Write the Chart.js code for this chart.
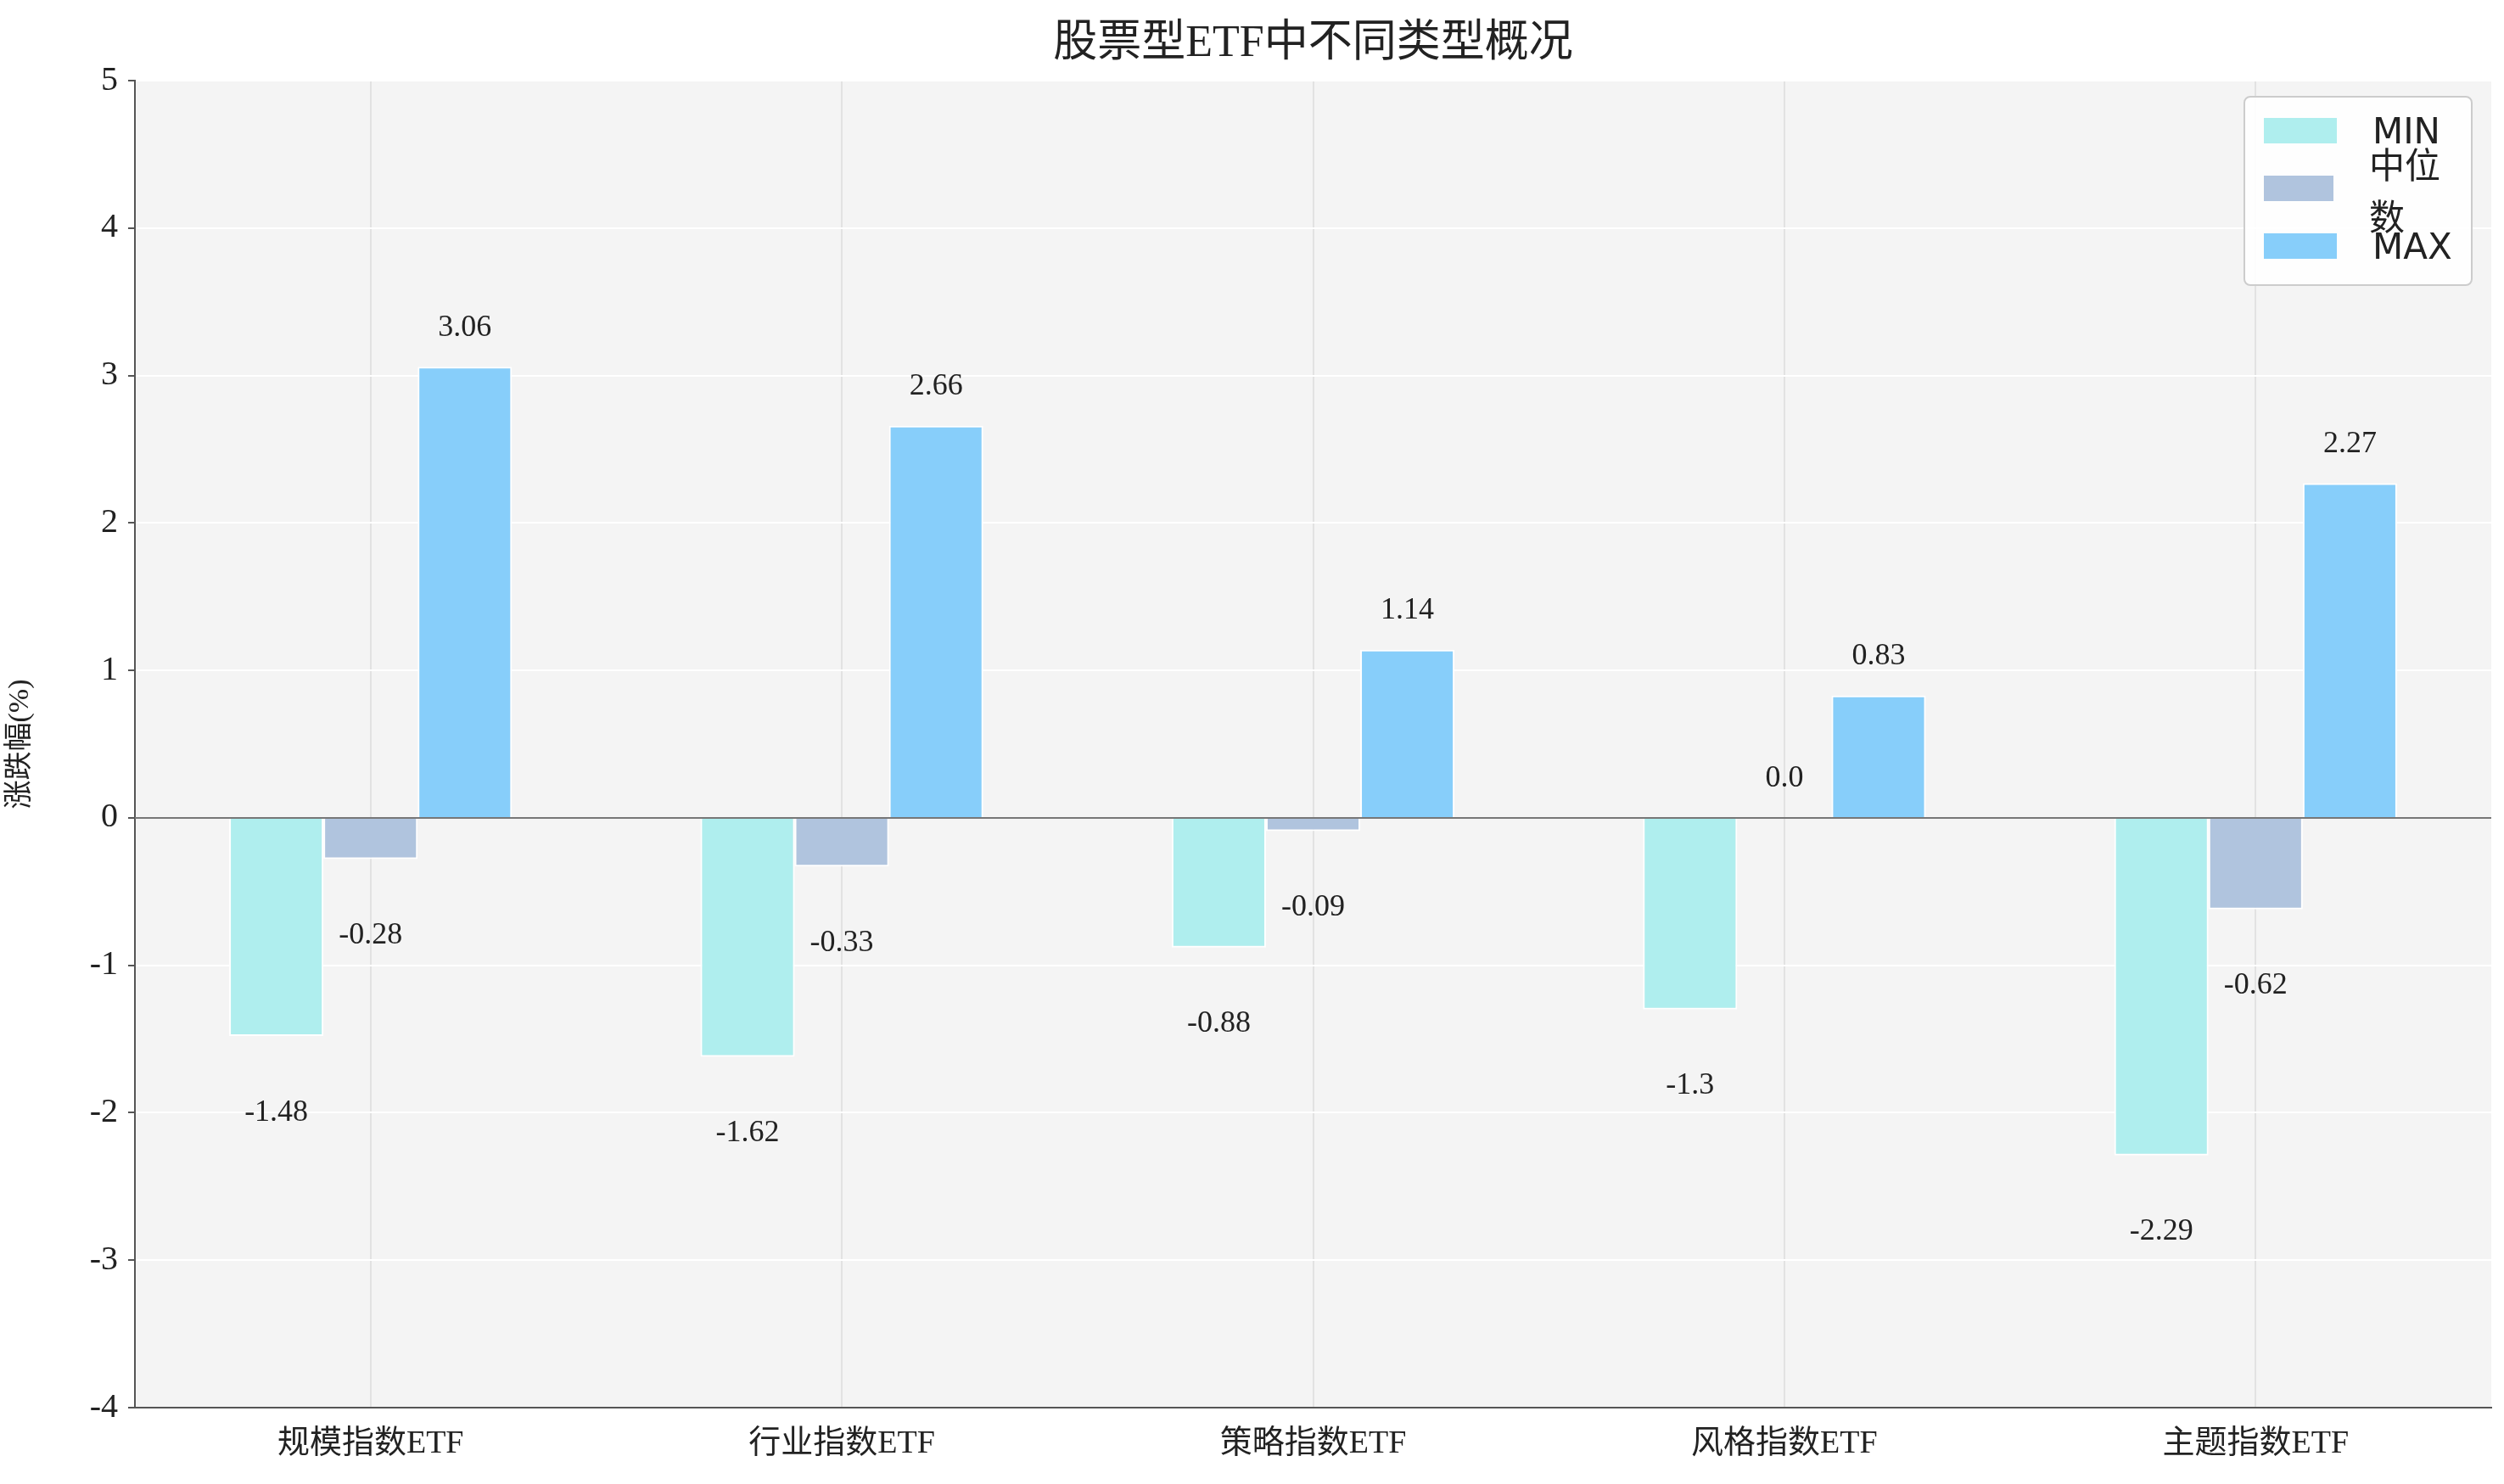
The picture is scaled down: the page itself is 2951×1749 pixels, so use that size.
<!DOCTYPE html>
<html lang="zh">
<head>
<meta charset="UTF-8">
<title>股票型ETF中不同类型概况</title>
<script src="https://cdn.jsdelivr.net/npm/chart.js"></script>
<style>
  body { margin: 0; background: #fff; }
  .wrap { position: relative; width: 2951px; height: 1749px; }
  .legend {
    position: absolute; left: 2644px; top: 113px; width: 266px; height: 220px;
    background: rgba(255,255,255,0.9); border: 2px solid #ccc; border-radius: 8px;
    font-family: "DejaVu Sans", "Noto Sans CJK SC", sans-serif; font-size: 42px; color: #222;
  }
  .legend .row { position: absolute; left: 22px; height: 50px; display: flex; align-items: center; }
  .legend .sw { width: 86px; height: 30px; margin-right: 42px; }
</style>
</head>
<body>
<div class="wrap">
  <canvas id="c" width="2951" height="1749"></canvas>
  <div class="legend">
    <div class="row" style="top:14px"><span class="sw" style="background:#afeeee"></span>MIN</div>
    <div class="row" style="top:82px"><span class="sw" style="background:#b0c4de"></span>中位数</div>
    <div class="row" style="top:150px"><span class="sw" style="background:#87cefa"></span>MAX</div>
  </div>
</div>
<script>
  const categories = ['规模指数ETF', '行业指数ETF', '策略指数ETF', '风格指数ETF', '主题指数ETF'];
  const minValues = [-1.48, -1.62, -0.88, -1.3, -2.29];
  const medianValues = [-0.28, -0.33, -0.09, 0.0, -0.62];
  const maxValues = [3.06, 2.66, 1.14, 0.83, 2.27];
  const yTicks = [5, 4, 3, 2, 1, 0, -1, -2, -3, -4];

  const serif = '"Liberation Serif", "Noto Sans CJK SC", serif';

  // 背景、标题、数值标签
  const decor = {
    id: 'decor',
    beforeDraw(chart) {
      const { ctx, chartArea: a } = chart;
      ctx.save();
      ctx.fillStyle = '#f4f4f4';
      ctx.fillRect(a.left, a.top, a.right - a.left, a.bottom - a.top);
      ctx.restore();
    },
    afterDatasetsDraw(chart) {
      const { ctx, scales } = chart;
      ctx.save();
      // 零线
      const y0 = scales.y.getPixelForValue(0);
      ctx.strokeStyle = '#777'; ctx.lineWidth = 2;
      ctx.beginPath(); ctx.moveTo(chart.chartArea.left, y0); ctx.lineTo(chart.chartArea.right, y0); ctx.stroke();
      ctx.fillStyle = '#222';
      ctx.font = '36px ' + serif;
      ctx.textAlign = 'center';
      chart.data.datasets.forEach((ds, i) => {
        chart.getDatasetMeta(i).data.forEach((bar, j) => {
          const v = ds.data[j];
          const yv = scales.y.getPixelForValue(v);
          const txt = Number.isInteger(v) ? v.toFixed(1) : String(v);
          if (v >= 0) { ctx.textBaseline = 'bottom'; ctx.fillText(txt, bar.x, yv - 28); }
          else { ctx.textBaseline = 'middle'; ctx.fillText(txt, bar.x, yv + 90); }
        });
      });
      // 标题
      ctx.font = '52px ' + serif;
      ctx.textBaseline = 'middle';
      ctx.fillText('股票型ETF中不同类型概况', (chart.chartArea.left + chart.chartArea.right) / 2, 52);
      ctx.restore();
    }
  };

  new Chart(document.getElementById('c'), {
    type: 'bar',
    data: {
      labels: categories,
      datasets: [
        { label: 'MIN', data: minValues, backgroundColor: '#afeeee' },
        { label: '中位数', data: medianValues, backgroundColor: '#b0c4de' },
        { label: 'MAX', data: maxValues, backgroundColor: '#87cefa' }
      ].map(d => Object.assign(d, { borderColor: '#fff', borderWidth: 2, categoryPercentage: 0.6, barPercentage: 1 }))
    },
    options: {
      responsive: false,
      devicePixelRatio: 1,
      animation: false,
      layout: { padding: { top: 95, right: 15, left: 0, bottom: 0 } },
      plugins: { legend: { display: false }, tooltip: { enabled: false } },
      scales: {
        x: {
          grid: { color: '#e2e2e2', lineWidth: 2, offset: false, drawTicks: false },
          border: { color: '#555', width: 2 },
          ticks: { color: '#222', font: { family: serif, size: 38 }, padding: 20 },
          afterFit(s) { s.height = 90; }
        },
        y: {
          min: -4, max: 5,
          afterBuildTicks(s) { s.ticks = yTicks.map(v => ({ value: v })); },
          grid: { color: '#ffffff', lineWidth: 2, drawTicks: true, tickColor: '#555', tickLength: 8 },
          border: { color: '#555', width: 2 },
          ticks: { color: '#222', font: { family: serif, size: 40 }, padding: 12 },
          title: { display: true, text: '涨跌幅(%)', color: '#222', font: { family: serif, size: 34 } },
          afterFit(s) { s.width = 159; }
        }
      }
    },
    plugins: [decor]
  });
</script>
</body>
</html>
